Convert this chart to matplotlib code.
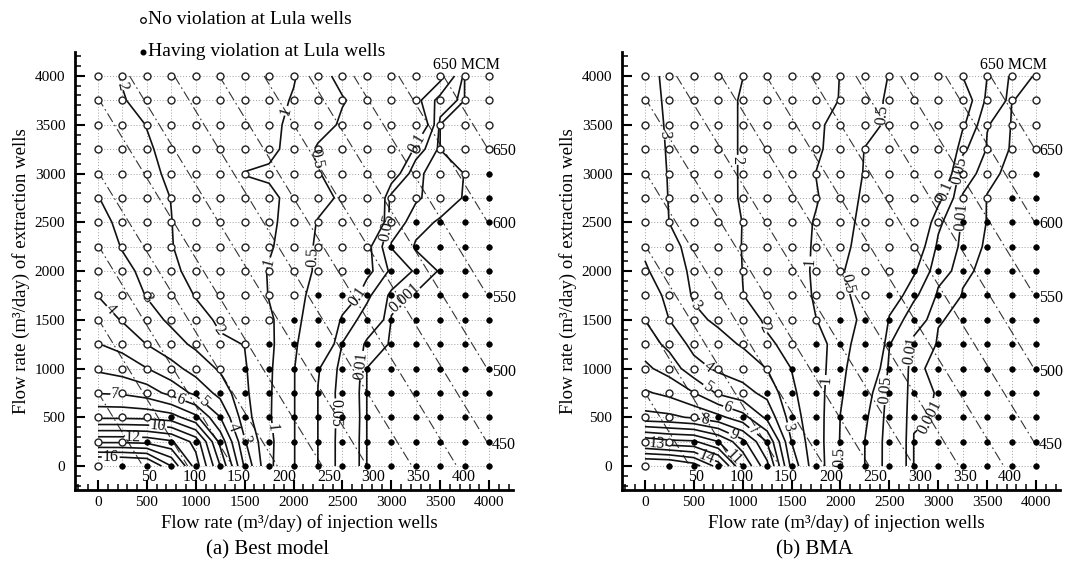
import matplotlib
matplotlib.use("Agg")
import matplotlib.pyplot as plt
import numpy as np
from matplotlib.ticker import MultipleLocator
from matplotlib.lines import Line2D

plt.rcParams["font.family"] = ["Liberation Serif", "DejaVu Serif"]

# pumping-rate grid used for both axes (m3/day)
rates = np.arange(0, 4001, 250)

levels = [0.001, 0.01, 0.05, 0.1, 0.5, 1, 2, 3, 4, 5, 6, 7, 8, 9, 10, 11, 12, 13, 14, 15, 16]

# (a) best model, one row per extraction rate (0 ... 4000), columns = injection rate
best_rows = [
    [17.9, 17.8, 17.5, 15.0, 11.5, 8.0, 3.85, 1.1, 0.52, 0.098, 0.03, 0.0009, 0.0003, 0.0002, 0.0001, 0.0001, 0.0001],
    [12.8, 12.8, 12.68, 12.15, 10.63, 6.71, 3.1, 1.12, 0.52, 0.098, 0.03, 0.0009, 0.0003, 0.0002, 0.0001, 0.0001, 0.0001],
    [8.82, 8.81, 8.74, 8.47, 7.25, 5.02, 2.4, 1.05, 0.52, 0.098, 0.032, 0.0009, 0.0003, 0.0002, 0.0001, 0.0001, 0.0001],
    [6.95, 6.87, 6.53, 5.67, 4.75, 3.67, 2.2, 1.06, 0.52, 0.098, 0.03, 0.0009, 0.0003, 0.0002, 0.0001, 0.0001, 0.0001],
    [5.84, 5.56, 5.02, 4.35, 3.6, 2.86, 2.1, 1.08, 0.52, 0.105, 0.035, 0.0009, 0.0003, 0.0002, 0.0001, 0.0001, 0.0001],
    [5.03, 4.67, 3.98, 3.37, 2.81, 2.14, 1.98, 1.12, 0.56, 0.2, 0.048, 0.005, 0.0004, 0.0002, 0.0001, 0.0001, 0.0001],
    [4.51, 3.93, 3.375, 2.83, 2.34, 1.85, 1.75, 1.1, 0.6, 0.3, 0.08, 0.03, 0.0008, 0.0003, 0.0002, 0.0001, 0.0001],
    [3.98, 3.57, 2.95, 2.56, 1.95, 1.7, 1.55, 0.97, 0.62, 0.38, 0.18, 0.06, 0.002, 0.0004, 0.0002, 0.0001, 0.0001],
    [3.75, 3.21, 2.8, 2.1, 1.85, 1.6, 1.45, 0.95, 0.66, 0.45, 0.3, 0.12, 0.04, 0.005, 0.0005, 0.0002, 0.0001],
    [3.5, 2.95, 2.6, 2.02, 1.78, 1.5, 1.35, 1.07, 0.7, 0.45, 0.38, 0.12, 0.008, 0.0003, 0.0002, 0.0001, 0.0001],
    [3.25, 2.81, 2.4, 2.01, 1.72, 1.45, 1.28, 1.13, 0.75, 0.48, 0.4, 0.3, 0.02, 0.003, 0.0003, 0.0002, 0.0001],
    [3.02, 2.68, 2.2, 1.99, 1.68, 1.4, 1.22, 1.15, 0.8, 0.6, 0.45, 0.3, 0.03, 0.012, 0.004, 0.0006, 0.0002],
    [2.8, 2.54, 2.07, 1.95, 1.65, 1.38, 0.98, 0.9, 0.7, 0.52, 0.35, 0.25, 0.15, 0.012, 0.006, 0.0008, 0.0002],
    [2.62, 2.41, 2.04, 1.9, 1.62, 1.4, 1.25, 1.15, 0.8, 0.45, 0.42, 0.38, 0.3, 0.08, 0.0009, 0.0008, 0.0006],
    [2.45, 2.15, 1.99, 1.85, 1.6, 1.42, 1.27, 1.17, 0.85, 0.65, 0.45, 0.4, 0.3, 0.2, 0.0009, 0.0005, 0.0003],
    [2.3, 2.02, 1.9, 1.8, 1.58, 1.43, 1.28, 1.22, 0.95, 0.7, 0.52, 0.4, 0.3, 0.12, 0.03, 0.0009, 0.0004],
    [2.15, 1.98, 1.85, 1.75, 1.6, 1.45, 1.3, 1.25, 1.05, 0.6, 0.42, 0.35, 0.3, 0.25, 0.12, 0.0009, 0.0006],
]

# (b) BMA, one column per injection rate (0 ... 4000), values from extraction 0 ... 4000
bma_cols = [
    [17.4, 12.7, 8.32, 7.12, 6.2, 5.56, 4.99, 4.55, 4.11, 3.85, 3.6, 3.45, 3.35, 3.25, 3.2, 3.15, 3.1],
    [17.3, 12.27, 8.21, 6.75, 5.6, 4.71, 3.99, 3.75, 3.5, 3.25, 2.99, 2.97, 2.96, 2.95, 2.94, 2.93, 2.93],
    [16.5, 12.15, 7.87, 6.02, 4.36, 3.7, 3.2, 2.9, 2.8, 2.72, 2.68, 2.65, 2.62, 2.6, 2.6, 2.6, 2.6],
    [14.6, 11.02, 7.29, 4.85, 3.83, 3.31, 2.85, 2.6, 2.45, 2.35, 2.3, 2.28, 2.27, 2.27, 2.27, 2.27, 2.27],
    [10.98, 9.29, 6.38, 4.35, 3.53, 2.91, 2.45, 2.01, 1.99, 1.98, 1.99, 1.93, 1.93, 1.93, 1.93, 1.93, 2.01],
    [8.3, 6.97, 4.75, 3.71, 2.98, 2.14, 1.85, 1.75, 1.7, 1.65, 1.6, 1.6, 1.6, 1.6, 1.6, 1.6, 1.62],
    [3.7, 2.98, 2.5, 2.2, 1.98, 1.75, 1.55, 1.45, 1.35, 1.3, 1.3, 1.35, 1.3, 1.4, 1.4, 1.38, 1.4],
    [1.3, 1.25, 1.25, 1.25, 1.28, 1.3, 1.01, 0.9, 0.88, 0.92, 0.95, 1.05, 0.99, 1.1, 1.1, 1.2, 1.2],
    [0.45, 0.47, 0.49, 0.55, 0.6, 0.65, 0.7, 0.58, 0.52, 0.56, 0.6, 0.65, 0.7, 0.75, 0.82, 0.98, 0.99],
    [0.098, 0.099, 0.11, 0.13, 0.2, 0.3, 0.4, 0.38, 0.4, 0.42, 0.43, 0.45, 0.48, 0.49, 0.6, 0.62, 0.65],
    [0.03, 0.03, 0.032, 0.035, 0.04, 0.052, 0.09, 0.15, 0.2, 0.3, 0.35, 0.38, 0.4, 0.42, 0.45, 0.46, 0.49],
    [0.0009, 0.0009, 0.0012, 0.0015, 0.0015, 0.005, 0.02, 0.06, 0.11, 0.15, 0.2, 0.25, 0.3, 0.33, 0.35, 0.37, 0.4],
    [0.0004, 0.0006, 0.0009, 0.0009, 0.0004, 0.0006, 0.0012, 0.005, 0.02, 0.04, 0.06, 0.12, 0.2, 0.25, 0.28, 0.3, 0.33],
    [0.0002, 0.0003, 0.0003, 0.0003, 0.0002, 0.0003, 0.0004, 0.0008, 0.0015, 0.003, 0.006, 0.008, 0.02, 0.06, 0.11, 0.14, 0.099],
    [0.0001, 0.0001, 0.0001, 0.0001, 0.0001, 0.0001, 0.0002, 0.0003, 0.0004, 0.0005, 0.0008, 0.0008, 0.002, 0.008, 0.011, 0.04, 0.05],
    [0.0001, 0.0001, 0.0001, 0.0001, 0.0001, 0.0001, 0.0001, 0.0001, 0.0001, 0.0001, 0.0001, 0.0001, 0.0001, 0.0002, 0.0006, 0.0011, 0.005],
    [0.0001, 0.0001, 0.0001, 0.0001, 0.0001, 0.0001, 0.0001, 0.0001, 0.0001, 0.0001, 0.0001, 0.0001, 0.0001, 0.0001, 0.0001, 0.0002, 0.0004],
]

# smallest injection rate with a violation at Lula wells, per extraction rate (None = no violation)
viol_best = [250, 500, 750, 1000, 1500, 1750, 2000, 2250, 2750, 3000, 3250, 3750, 4000, None, None, None, None]
viol_bma = [250, 500, 750, 1250, 1500, 1750, 2000, 2500, 2750, 3000, 3250, 3750, 4000, None, None, None, None]

# total pumped volume lines (MCM)
mcm_levels = np.arange(50, 651, 50)
mcm_per_inj = 0.109
mcm_per_ext = 0.0662

# where the contour labels sit
best_label_pos = [(130, 90), (360, 290), (615, 400), (175, 700), (850, 690), (1080, 660),
                  (1390, 400), (1510, 270), (1790, 390), (120, 1600), (470, 1700), (1250, 1400),
                  (230, 3900), (1900, 3650), (1700, 2100), (2150, 2150), (2230, 3150),
                  (3230, 3330), (2650, 1750), (2960, 2450), (3100, 1750), (2680, 1030), (2430, 540)]
bma_label_pos = [(120, 245), (640, 110), (910, 90), (910, 330), (1115, 370), (614, 470),
                 (850, 605), (634, 800), (634, 1000), (1480, 400), (490, 1620), (210, 3400),
                 (1145, 1375), (900, 3140), (1880, 880), (1650, 2100), (2000, 92), (2440, 3600),
                 (2100, 1880), (2950, 2860), (3200, 3035), (3300, 2550), (2450, 780), (2620, 1190),
                 (2950, 500)]


def draw_panel(ax, z, viol, label_pos):
    ax.set_xlim(-235, 4245)
    ax.set_ylim(-246, 4246)

    for r in rates:
        ax.plot([r, r], [0, 4000], color="#a0a0a0", lw=0.7, ls=(0, (1, 2)), zorder=1)
        ax.plot([0, 4000], [r, r], color="#a0a0a0", lw=0.7, ls=(0, (1, 2)), zorder=1)

    for v in mcm_levels:
        x0 = max(0, (v - 4000 * mcm_per_ext) / mcm_per_inj)
        x1 = min(4000, v / mcm_per_inj)
        xs = np.array([x0, x1])
        ys = (v - mcm_per_inj * xs) / mcm_per_ext
        ax.plot(xs, ys, color="#333333", lw=0.8, ls=(0, (9, 3, 1.5, 3)), zorder=2)
        if v <= 400:
            ax.text((v + 110 * mcm_per_ext) / mcm_per_inj, -110, str(v),
                    ha="center", va="center", fontsize=11.5)
        else:
            ax.text(4030, (v - 4000 * mcm_per_inj) / mcm_per_ext, str(v),
                    ha="left", va="center", fontsize=11.5)
    ax.text((650 - 4000 * mcm_per_ext) / mcm_per_inj - 110, 4115, "650 MCM",
            ha="left", va="center", fontsize=11.5)

    X, Y = np.meshgrid(rates, rates)
    cs = ax.contour(X, Y, z, levels=levels, colors="#111111", linewidths=1.2, zorder=3)
    ax.clabel(cs, fmt=lambda v: f"{v:g}", fontsize=11.5, inline=True,
              inline_spacing=1, manual=label_pos)

    ox, oy, fx, fy = [], [], [], []
    for i, y in enumerate(rates):
        for x in rates:
            if viol[i] is not None and x >= viol[i]:
                fx.append(x)
                fy.append(y)
            else:
                ox.append(x)
                oy.append(y)
    ax.plot(ox, oy, "o", ms=5, mfc="white", mec="#222222", mew=1.0, zorder=4)
    ax.plot(fx, fy, "o", ms=4, mfc="black", mec="black", mew=0.5, zorder=4)

    for s in ["top", "right"]:
        ax.spines[s].set_visible(False)
    for s in ["left", "bottom"]:
        ax.spines[s].set_linewidth(2)
    ax.xaxis.set_major_locator(MultipleLocator(500))
    ax.xaxis.set_minor_locator(MultipleLocator(100))
    ax.yaxis.set_major_locator(MultipleLocator(500))
    ax.yaxis.set_minor_locator(MultipleLocator(100))
    ax.tick_params(which="major", direction="in", length=7, width=1.5, labelsize=11)
    ax.tick_params(which="minor", direction="in", length=4, width=1.1)
    ax.tick_params(axis="y", pad=7)
    ax.tick_params(axis="x", pad=4)
    ax.set_xlabel("Flow rate (m³/day) of injection wells", fontsize=13.5)
    ax.set_ylabel("Flow rate (m³/day) of extraction wells", fontsize=13.5)
    ax.xaxis.set_label_coords(0.512, -0.056)
    ax.yaxis.set_label_coords(-0.103, 0.5)


fig = plt.figure(figsize=(10.67, 5.69), dpi=100)
ax1 = fig.add_axes([0.0703, 0.1388, 0.4105, 0.7698])
ax2 = fig.add_axes([0.5829, 0.1388, 0.4105, 0.7698])

draw_panel(ax1, np.array(best_rows), viol_best, best_label_pos)
draw_panel(ax2, np.array(bma_cols).T, viol_bma, bma_label_pos)

fig.text(268 / 1067, 1 - 550 / 569, "(a) Best model", ha="center", va="center", fontsize=15)
fig.text(815 / 1067, 1 - 550 / 569, "(b) BMA", ha="center", va="center", fontsize=15)

fig.add_artist(Line2D([143 / 1067], [1 - 20 / 569], marker="o", ms=4, mfc="white",
                      mec="black", mew=0.9, transform=fig.transFigure))
fig.add_artist(Line2D([143 / 1067], [1 - 52 / 569], marker="o", ms=3.3, mfc="black",
                      mec="black", transform=fig.transFigure))
fig.text(148 / 1067, 1 - 20 / 569, "No violation at Lula wells", ha="left", va="center", fontsize=14)
fig.text(148 / 1067, 1 - 52 / 569, "Having violation at Lula wells", ha="left", va="center", fontsize=14)

fig.savefig("out.png", dpi=100)
